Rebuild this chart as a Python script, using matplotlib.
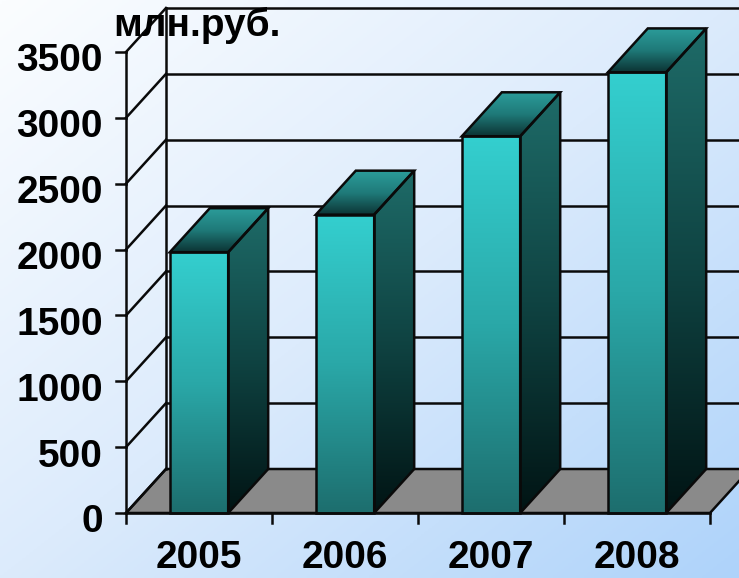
import matplotlib
matplotlib.use("Agg")
import matplotlib.pyplot as plt
import numpy as np
from matplotlib.patches import Polygon
from matplotlib.colors import LinearSegmentedColormap

# данные
years = ["2005", "2006", "2007", "2008"]
values = [1980, 2265, 2860, 3345]
yticks = [0, 500, 1000, 1500, 2000, 2500, 3000, 3500]
unit_label = "млн.руб."

plt.rcParams['font.family'] = ['Liberation Sans', 'DejaVu Sans']

W, H = 739, 578
fig = plt.figure(figsize=(W / 100, H / 100), dpi=100)
ax = fig.add_axes([0, 0, 1, 1])
ax.set_axis_off()

# пиксели -> данные: x категории (шаг 146 px), y значения (461 px на 3500)
px_cat = 146.0
px_val = 461.0 / 3500
x0_px, y0_px = 126.0, 513.0
xlim = (-x0_px / px_cat, (W - x0_px) / px_cat)
ylim = (-(H - y0_px) / px_val, y0_px / px_val)

dx = 40 / px_cat      # глубина по x
dy = 44 / px_val      # глубина по y
bar_w = 0.40
n = len(years)
vmax = yticks[-1]
lw = 1.8
lc = "#0a0a0a"

# фон: диагональный градиент
gx, gy = np.meshgrid(np.linspace(0, 1, 200), np.linspace(0, 1, 200))
g = (gx + gy) / 2
bg = LinearSegmentedColormap.from_list("bg", ["#fbfdff", "#dcebfc", "#aed3fa"])
ax.imshow(g, cmap=bg, extent=[0, 1, 0, 1], transform=ax.transAxes,
          aspect='auto', origin='upper', zorder=0)

# пол
floor = Polygon([(0, 0), (n, 0), (n + dx, dy), (dx, dy)], closed=True,
                facecolor="#8a8a8a", edgecolor=lc, lw=lw, zorder=1)
ax.add_patch(floor)

# левая стена и сетка
for t in yticks:
    ax.plot([0, dx], [t, t + dy], color=lc, lw=lw, zorder=1)
    if t > 0:
        ax.plot([dx, n + 2 * dx + 1], [t + dy, t + dy], color=lc, lw=lw, zorder=1)
ax.plot([dx, dx], [dy, vmax + dy], color=lc, lw=lw, zorder=1)

# оси
ax.plot([0, 0], [0, vmax], color=lc, lw=lw, zorder=5)
ax.plot([0, n], [0, 0], color=lc, lw=lw, zorder=5)
tick_len_x = 10 / px_cat
tick_len_y = 10 / px_val
for t in yticks:
    ax.plot([-tick_len_x, 0], [t, t], color=lc, lw=lw, zorder=5)
    ax.text(-23 / px_cat, t - 19.5 / px_val, str(t), ha='right', va='baseline',
            fontsize=28, fontweight='bold', color='black', zorder=6)
for i in range(n + 1):
    ax.plot([i, i], [0, -tick_len_y], color=lc, lw=lw, zorder=5)
for i, yr in enumerate(years):
    ax.text(i + 0.5, -55 / px_val, yr, ha='center', va='baseline',
            fontsize=28, fontweight='bold', color='black', zorder=6)

ax.text((113 - x0_px) / px_cat, (y0_px - 36) / px_val, unit_label,
        ha='left', va='baseline', fontsize=28, fontweight='bold', zorder=6)

front_cm = LinearSegmentedColormap.from_list("fr", ["#1d6e6e", "#2aa8a8", "#34cfcf"])
side_cm = LinearSegmentedColormap.from_list("sd", ["#011414", "#0f4342", "#1e6b68"])
top_cm = LinearSegmentedColormap.from_list("tp", ["#0c3434", "#1f7a79", "#2b9c9a"])
vert = np.linspace(0, 1, 256).reshape(-1, 1)

# столбцы
for i, v in enumerate(values):
    a = i + 0.5 - bar_w / 2
    b = i + 0.5 + bar_w / 2
    # боковая грань
    side = Polygon([(b, 0), (b + dx, dy), (b + dx, v + dy), (b, v)], closed=True,
                   facecolor='none', edgecolor=lc, lw=lw, zorder=4)
    im = ax.imshow(vert, cmap=side_cm, extent=[b, b + dx, 0, v + dy],
                   aspect='auto', origin='lower', zorder=3)
    ax.add_patch(side)
    im.set_clip_path(side)
    # верх
    top = Polygon([(a, v), (b, v), (b + dx, v + dy), (a + dx, v + dy)], closed=True,
                  facecolor='none', edgecolor=lc, lw=lw, zorder=4)
    im = ax.imshow(vert, cmap=top_cm, extent=[a, b + dx, v, v + dy],
                   aspect='auto', origin='lower', zorder=3)
    ax.add_patch(top)
    im.set_clip_path(top)
    # передняя грань
    ax.imshow(vert, cmap=front_cm, extent=[a, b, 0, v],
              aspect='auto', origin='lower', zorder=3)
    ax.add_patch(Polygon([(a, 0), (b, 0), (b, v), (a, v)], closed=True,
                         facecolor='none', edgecolor=lc, lw=lw, zorder=4))

ax.set_xlim(*xlim)
ax.set_ylim(*ylim)
fig.savefig("out.png", dpi=100)
